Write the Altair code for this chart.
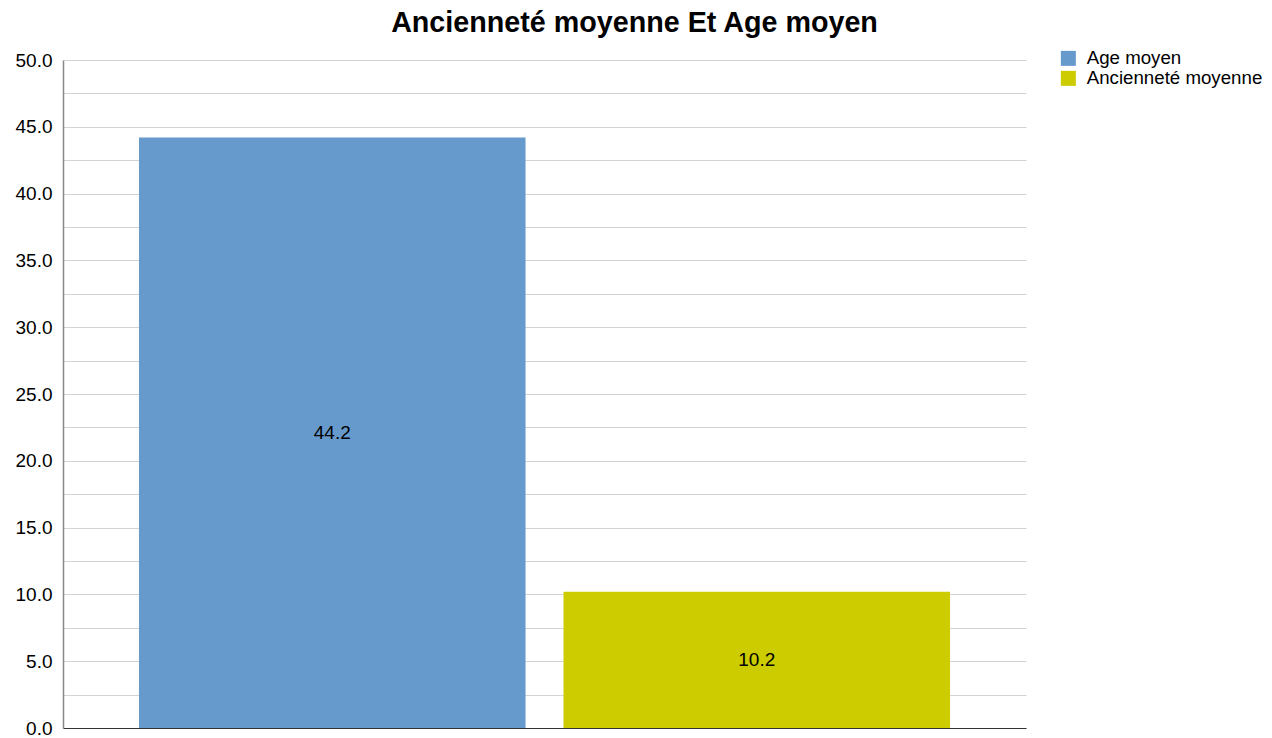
import altair as alt
import pandas as pd

series = ["Age moyen", "Ancienneté moyenne"]
values = [44.2, 10.2]
colors = ["#6699CC", "#CCCC00"]
y_ticks = [i * 2.5 for i in range(21)]

df = pd.DataFrame({"serie": series, "valeur": values})

FONT = "Liberation Sans"

x_axis = alt.Axis(labels=False, ticks=False, domainColor="#333333",
                  domainWidth=1, grid=False, title=None)
y_axis = alt.Axis(values=y_ticks, ticks=False, grid=True,
                  gridColor="#d3d3d3", gridWidth=1,
                  domainColor="#888888", domainWidth=1.5,
                  labelExpr="datum.value % 5 == 0 ? format(datum.value, '.1f') : ''",
                  labelFontSize=19, labelColor="#000000", labelFont=FONT,
                  labelPadding=11, labelOverlap=False, title=None)
x_scale = alt.Scale(paddingInner=0.0894, paddingOuter=0.179)
y_scale = alt.Scale(domain=[0, 50], nice=False)

bars = alt.Chart(df).mark_bar().encode(
    x=alt.X("serie:N", sort=series, scale=x_scale, axis=x_axis),
    y=alt.Y("valeur:Q", scale=y_scale, axis=y_axis),
    color=alt.Color("serie:N", sort=series,
                    scale=alt.Scale(domain=series, range=colors),
                    legend=alt.Legend(title=None, orient="none", legendX=996, legendY=-11,
                                      symbolType="square", symbolSize=225,
                                      symbolStrokeWidth=0, labelFontSize=18.7,
                                      labelFont=FONT, labelColor="#000000",
                                      labelLimit=400, rowPadding=0, labelOffset=9)),
)

labels = alt.Chart(df).transform_calculate(mid="datum.valeur / 2").mark_text(
    fontSize=19, font=FONT, color="#000000", baseline="middle"
).encode(
    x=alt.X("serie:N", sort=series, scale=x_scale, axis=x_axis),
    y=alt.Y("mid:Q", scale=y_scale, axis=y_axis),
    text=alt.Text("valeur:Q", format=".1f"),
)

chart = alt.layer(bars, labels).properties(
    width=963, height=668,
    title=alt.TitleParams("Ancienneté moyenne Et Age moyen", fontSize=28.7, font=FONT,
                          fontWeight="bold", color="#000000", anchor="middle",
                          dx=90, offset=11),
    autosize=alt.AutoSizeParams(type="none"),
    padding={"left": 55, "top": 52, "right": 238, "bottom": 10},
).configure_view(stroke=None)

chart.save("out.html", embed_options={"renderer": "svg", "actions": False})
